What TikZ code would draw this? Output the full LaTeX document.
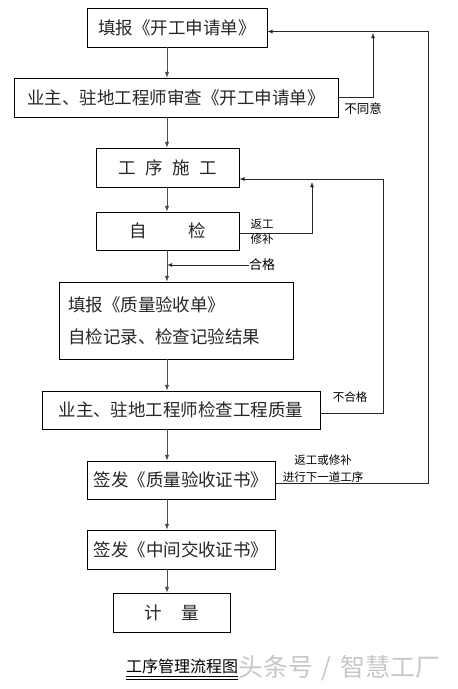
\documentclass[tikz,border=0pt]{standalone}
\usepackage{fontspec}
\usepackage{xcolor}
\usepackage{tikz}
\usetikzlibrary{positioning, arrows}
\newfontfamily\cjk{Noto Sans CJK SC}
\newcommand{\bigf}{\cjk\fontsize{17.5}{20}\selectfont}
\newcommand{\smallf}{\cjk\fontsize{11.5}{15}\selectfont}

\begin{document}
\begin{tikzpicture}[x=1pt, y=-1pt,
    box/.style={draw, line width=0.8pt, inner sep=0pt, text=black!85, font=\bigf},
    lbl/.style={inner sep=0pt, font=\smallf},
    flow/.style={-latex, line width=1pt, color=black!70},
    fb/.style={-latex, line width=0.8pt, color=black!85}]
     \useasboundingbox (0,0) rectangle (458,689);
     \coordinate (sp) at (167,0); %main spine
     \node[box, minimum width=180pt, minimum height=39pt] (shq) at (177,27.5) {填报《开工申请单》};
     \node[box, minimum width=324pt, minimum height=39pt] (shc) at (176,97.5) {业主、驻地工程师审查《开工申请单》};
     \node[box, minimum width=143pt, minimum height=39pt] (sg) at (167.5,167.5) {工\hspace{0.55em}序\hspace{0.55em}施\hspace{0.55em}工};
     \node[box, minimum width=143pt, minimum height=38pt] (zj) at (167.5,231) {自\hspace{2.4em}检};
     \node[box, minimum height=77pt, text width=216pt, inner xsep=9pt, align=left,
       font=\cjk\fontsize{17.5}{32}\selectfont] (ysd) at (176,320.5) {填报《质量验收单》\\自检记录、检查记验结果};
     \node[box, minimum width=278pt, minimum height=38pt] (zl) at (181,410) {业主、驻地工程师检查工程质量};
     \node[box, minimum width=188pt, minimum height=38pt] (zs) at (181,480) {签发《质量验收证书》};
     \node[box, minimum width=188pt, minimum height=39pt] (jk) at (181,549.5) {签发《中间交收证书》};
     \node[box, minimum width=117pt, minimum height=39pt] (jl) at (171.5,612.5) {计\hspace{1.1em}量};

     \draw[flow] (shq.south -| sp) -- (shc.north -| sp);
     \draw[flow] (shc.south -| sp) -- (sg.north -| sp);
     \draw[flow] (sg.south -| sp) -- (zj.north -| sp);
     \draw[flow] (zj.south -| sp) -- (ysd.north -| sp);
     \draw[flow] (ysd.south -| sp) -- (zl.north -| sp);
     \draw[flow] (zl.south -| sp) -- (zs.north -| sp);
     \draw[flow] (zs.south -| sp) -- (jk.north -| sp);
     \draw[flow] (jk.south -| sp) -- (jl.north -| sp);

     %return loops
     \coordinate (bt) at (373,33);
     \draw[fb] (shc.east) -| (bt);
     \node[lbl, font=\cjk\fontsize{12.5}{15}\selectfont] (bty) at (363,109) {不同意};
     \coordinate (rr) at (428,483);
     \draw[fb] ([yshift=-3pt]zs.east) -- (rr) |- ([yshift=-4pt]shq.east);
     \node[lbl, align=center, font=\cjk\fontsize{11.5}{17}\selectfont] (jx) at (323,469) {返工或修补\\进行下一道工序};
     \coordinate (r6) at (383,413);
     \draw[fb] ([yshift=-3pt]zl.east) -- (r6) |- ([yshift=-11.5pt]sg.east);
     \node[lbl] (bhg) at (350,397) {不合格};
     \coordinate (t4) at (312,182);
     \draw[fb] ([yshift=-2pt]zj.east) -| (t4);
     \node[lbl, align=left] (fg) at (262,232) {返工\\修补};
     \node[lbl, anchor=west, font=\cjk\fontsize{13}{15}\selectfont] (hg) at (249,265) {合格};
     \draw[fb] (hg.west) -- (hg.west -| sp);

     %caption
     \node[inner sep=0pt, font=\cjk\fontsize{16}{16}\selectfont] (tt) at (182,666) {工序管理流程图};
     \draw[line width=0.6pt] ([yshift=-3pt]tt.south west) -- ([yshift=-3pt]tt.south east);
     \draw[line width=0.6pt] ([yshift=-5.5pt]tt.south west) -- ([yshift=-5.5pt]tt.south east);
     \node[inner sep=0pt, anchor=west, text=black!22, font=\cjk\fontsize{25}{25}\selectfont] (wm) at (238,668) {头条号\hspace{0.35em}/\hspace{0.35em}智慧工厂};
   \end{tikzpicture}
\end{document}
